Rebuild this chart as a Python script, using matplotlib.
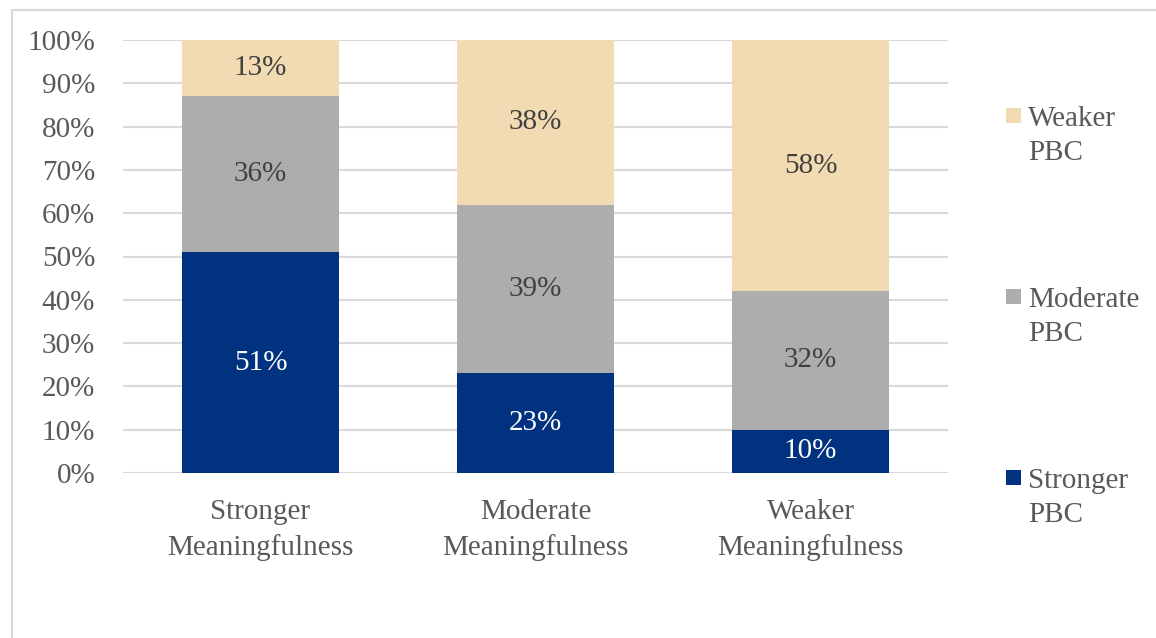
import matplotlib.pyplot as plt
from matplotlib.patches import Rectangle
from matplotlib.legend_handler import HandlerPatch
from matplotlib.ticker import PercentFormatter

plt.rcParams['font.family'] = ['Liberation Serif', 'DejaVu Serif']

categories = ['Stronger\nMeaningfulness', 'Moderate\nMeaningfulness', 'Weaker\nMeaningfulness']
series_names = ['Stronger\nPBC', 'Moderate\nPBC', 'Weaker\nPBC']
stronger_pbc = [51, 23, 10]
moderate_pbc = [36, 39, 32]
weaker_pbc = [13, 38, 58]

colors = ['#00327f', '#adadad', '#f2dbb2']
label_colors = ['white', '#404040', '#404040']
text_grey = '#595959'
fs = 21

fig = plt.figure(figsize=(11.56, 6.38), dpi=100)
ax = fig.add_axes([123 / 1156, 1 - 473 / 638, 825 / 1156, 433 / 638])

# light frame around the chart area
fig.patches.append(Rectangle((12 / 1156, -0.1), 1.1, 1.1 - 10 / 638, transform=fig.transFigure,
                             fill=False, edgecolor='#d9d9d9', linewidth=1.5))

x = range(len(categories))
bottom = [0, 0, 0]
handles = []
for name, vals, c, lc in zip(series_names, [stronger_pbc, moderate_pbc, weaker_pbc], colors, label_colors):
    bars = ax.bar(x, vals, bottom=bottom, width=0.57, color=c, label=name, zorder=2)
    ax.bar_label(bars, labels=[f'{v}%' for v in vals], label_type='center', color=lc, fontsize=fs)
    handles.append(bars.patches[0])
    bottom = [b + v for b, v in zip(bottom, vals)]

ax.set_xlim(-0.5, 2.5)
ax.set_ylim(0, 100)
ax.set_yticks(range(0, 101, 10))
ax.yaxis.set_major_formatter(PercentFormatter(decimals=0))
ax.set_xticks(list(x))
ax.set_xticklabels(categories, linespacing=1.4)
ax.tick_params(length=0, labelsize=fs, colors=text_grey)
ax.tick_params(axis='y', pad=20)
ax.tick_params(axis='x', pad=19)
ax.grid(axis='y', color='#d9d9d9', linewidth=1.5, zorder=0)
for s in ax.spines.values():
    s.set_visible(False)


def square_top(legend, orig_handle, xdescent, ydescent, width, height, fontsize):
    size = 0.5 * fontsize
    y0 = -ydescent + height / 2 - size / 2 + 0.7 * fontsize
    return Rectangle((-xdescent, y0), size, size)


leg = fig.legend(handles[::-1], series_names[::-1], loc='upper left',
                 bbox_to_anchor=(1006 / 1156, 1 - 106 / 638), frameon=False,
                 fontsize=fs, labelcolor=text_grey, handlelength=0.5, handletextpad=0.25,
                 labelspacing=4.15, borderpad=0, borderaxespad=0,
                 handler_map={h: HandlerPatch(patch_func=square_top) for h in handles})
for t in leg.get_texts():
    t.set_linespacing(1.4)

fig.savefig('out.png', dpi=100)
